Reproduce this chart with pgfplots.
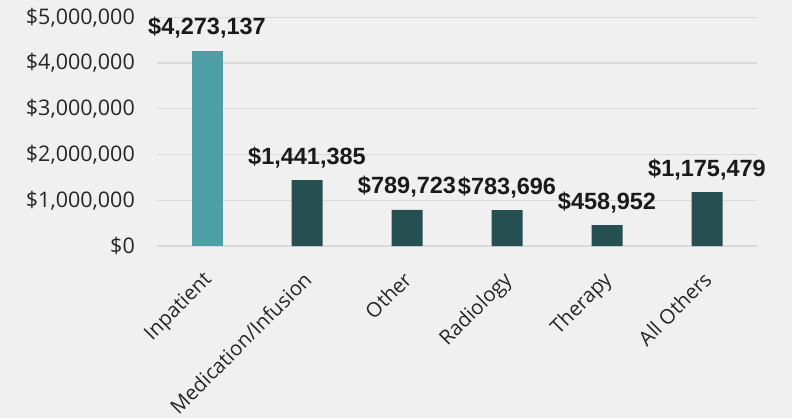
\documentclass[border=0pt]{standalone}
\usepackage{pgfplots}
\pgfplotsset{compat=1.18}
\usepackage{fontspec}
\setmainfont{Open Sans}
\newfontfamily\labfont{Liberation Sans}
\definecolor{bg}{HTML}{F0F0F0}
\definecolor{gridc}{HTML}{D9D9D9}
\definecolor{teal1}{HTML}{4E9FA5}
\definecolor{teal2}{HTML}{264F51}
\definecolor{txt}{HTML}{262626}
\definecolor{vtxt}{HTML}{1A1A1A}
\begin{document}
\begin{tikzpicture}[x=1pt,y=1pt]
\fill[bg] (0,0) rectangle (792,418);
\begin{axis}[
  at={(157pt,172pt)}, anchor=south west,
  scale only axis, width=600pt, height=228.75pt,
  xmin=-0.5, xmax=5.5, ymin=0, ymax=5000000,
  axis line style={draw=none},
  major tick length=0pt,
  ymajorgrids, grid style={color=gridc, line width=1.3pt},
  xtick={0,1,2,3,4,5},
  xticklabels={Inpatient,Medication/Infusion,Other,Radiology,Therapy,All Others},
  ytick={0,1000000,2000000,3000000,4000000,5000000},
  yticklabels={\$0,{\$1,000,000},{\$2,000,000},{\$3,000,000},{\$4,000,000},{\$5,000,000}},
  scaled y ticks=false,
  yticklabel style={font=\fontsize{21.5}{21.5}\selectfont, color=txt, inner sep=0pt, xshift=-22pt},
  xticklabel style={font=\fontsize{20.3}{20.3}\selectfont, color=txt, xshift=-5pt, yshift=-24pt, rotate=45, anchor=north east, inner sep=0pt},
  ybar, bar width=31pt, bar shift=0pt,
  point meta=explicit symbolic,
  nodes near coords={\$\pgfplotspointmeta},
  nodes near coords style={font=\labfont\bfseries\fontsize{23.5}{24}\selectfont, color=vtxt, anchor=base, yshift=16pt},
  clip=false,
]
\addplot[fill=teal1, draw=none] table[x=x, y=y, meta=lab] {
x y lab
0 4273137 4,273,137
};
\addplot[fill=teal2, draw=none] table[x=x, y=y, meta=lab] {
x y lab
1 1441385 1,441,385
2 789723 789,723
3 783696 783,696
4 458952 458,952
5 1175479 1,175,479
};
\end{axis}
\pgfresetboundingbox
\useasboundingbox (0,0) rectangle (792,418);
\end{tikzpicture}
\end{document}
